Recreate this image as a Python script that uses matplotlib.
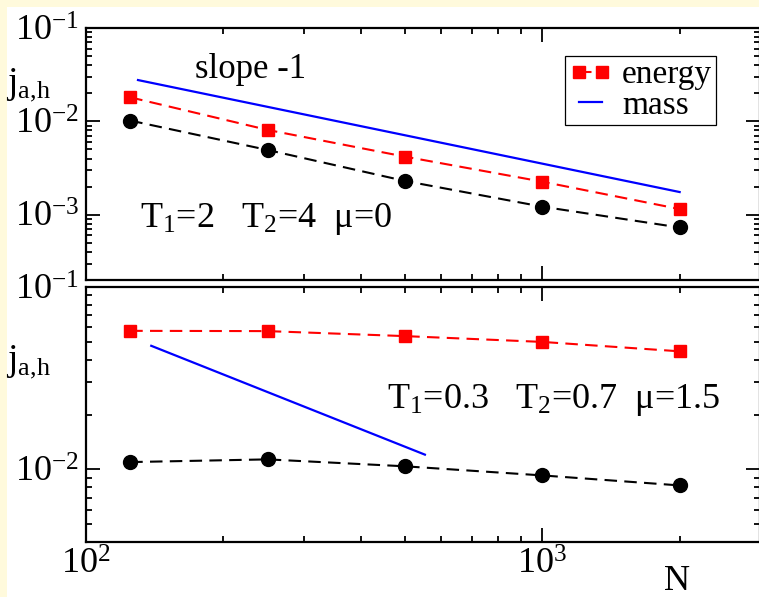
import matplotlib
matplotlib.use('Agg')
import matplotlib.pyplot as plt
from matplotlib.patches import Rectangle

# dados
N = [125, 250, 500, 1000, 2000]

# painel de cima: T1=2, T2=4, mu=0
top_energy = [0.0181, 0.0081, 0.00419, 0.00226, 0.00115]
top_circles = [0.0102, 0.00494, 0.0023, 0.00122, 0.00073]
top_mass_N = [130, 2000]
top_mass = [0.0277, 0.00175]

# painel de baixo: T1=0.3, T2=0.7, mu=1.5
bot_energy = [0.0575, 0.0573, 0.0538, 0.0500, 0.0444]
bot_circles = [0.01097, 0.01135, 0.0104, 0.00927, 0.00817]
bot_mass_N = [139, 553]
bot_mass = [0.0476, 0.01205]

plt.rcParams['font.family'] = ['Liberation Serif', 'DejaVu Serif']
plt.rcParams['mathtext.fontset'] = 'custom'
plt.rcParams['mathtext.rm'] = 'Liberation Serif'
plt.rcParams['mathtext.it'] = 'Liberation Serif:italic'
plt.rcParams['axes.unicode_minus'] = False

fig = plt.figure(figsize=(7.59, 5.97), dpi=100)
fig.patch.set_facecolor('white')
# moldura amarela (esquerda e topo)
amarelo = '#fffadc'
fig.patches.append(Rectangle((0, 0), 7 / 759, 1, transform=fig.transFigure,
                             facecolor=amarelo, edgecolor='none', zorder=-1))
fig.patches.append(Rectangle((0, 1 - 7 / 597), 1, 7 / 597, transform=fig.transFigure,
                             facecolor=amarelo, edgecolor='none', zorder=-1))

left = 86 / 759
width = 674 / 759
ax1 = fig.add_axes([left, 1 - 280 / 597, width, 252 / 597])
ax2 = fig.add_axes([left, 1 - 542 / 597, width, 255 / 597])

dash = (6, 3.5)
rotulo_j = r'$\mathrm{j_{a{,}h}}$'

for ax in (ax1, ax2):
    ax.set_xscale('log')
    ax.set_yscale('log')
    ax.set_xlim(100, 3000)
    for s in ax.spines.values():
        s.set_linewidth(1.6)
    ax.tick_params(which='both', direction='in', top=True, right=True,
                   labelsize=26, width=1.3)
    ax.tick_params(which='major', length=10, pad=5)
    ax.tick_params(which='minor', length=4.5)

# ---- painel de cima
ax1.set_ylim(2e-4, 0.1)
ax1.plot(N, top_circles, color='black', ls='--', dashes=dash, lw=1.5,
         marker='o', ms=10)
ax1.plot(N, top_energy, color='red', ls='--', dashes=dash, lw=1.5,
         marker='s', ms=9, label='energy')
ax1.plot(top_mass_N, top_mass, color='blue', lw=1.6, label='mass')
ax1.tick_params(axis='x', which='both', labelbottom=False)
ax1.set_ylabel(rotulo_j, rotation=0, fontsize=27, va='center', ha='center')
ax1.yaxis.set_label_coords(-0.085, 0.774)
ax1.text(0.162, 0.802, 'slope -1', transform=ax1.transAxes, fontsize=25,
         va='baseline', ha='left')
ax1.text(0.080, 0.21, r'T$_1$=2   T$_2$=4  μ=0', transform=ax1.transAxes,
         fontsize=26, va='baseline', ha='left')
leg = ax1.legend(loc='upper right', bbox_to_anchor=(0.935, 0.889), borderaxespad=0,
                 fontsize=24, numpoints=2, handlelength=1.3, handletextpad=0.3,
                 labelspacing=0.0, borderpad=0.12, fancybox=False, framealpha=1)
leg.get_frame().set_edgecolor('black')
leg.get_frame().set_linewidth(0.9)

# ---- painel de baixo
ax2.set_ylim(0.004, 0.1)
ax2.plot(N, bot_circles, color='black', ls='--', dashes=dash, lw=1.5,
         marker='o', ms=10)
ax2.plot(N, bot_energy, color='red', ls='--', dashes=dash, lw=1.5,
         marker='s', ms=9)
ax2.plot(bot_mass_N, bot_mass, color='blue', lw=1.6)
ax2.set_ylabel(rotulo_j, rotation=0, fontsize=27, va='center', ha='center')
ax2.yaxis.set_label_coords(-0.085, 0.706)
ax2.set_xlabel('N', fontsize=26, va='top', ha='center')
ax2.xaxis.set_label_coords(0.877, -0.09)
ax2.text(0.447, 0.525, r'T$_1$=0.3   T$_2$=0.7  μ=1.5', transform=ax2.transAxes,
         fontsize=26, va='baseline', ha='left')

fig.savefig('out.png', dpi=100)
